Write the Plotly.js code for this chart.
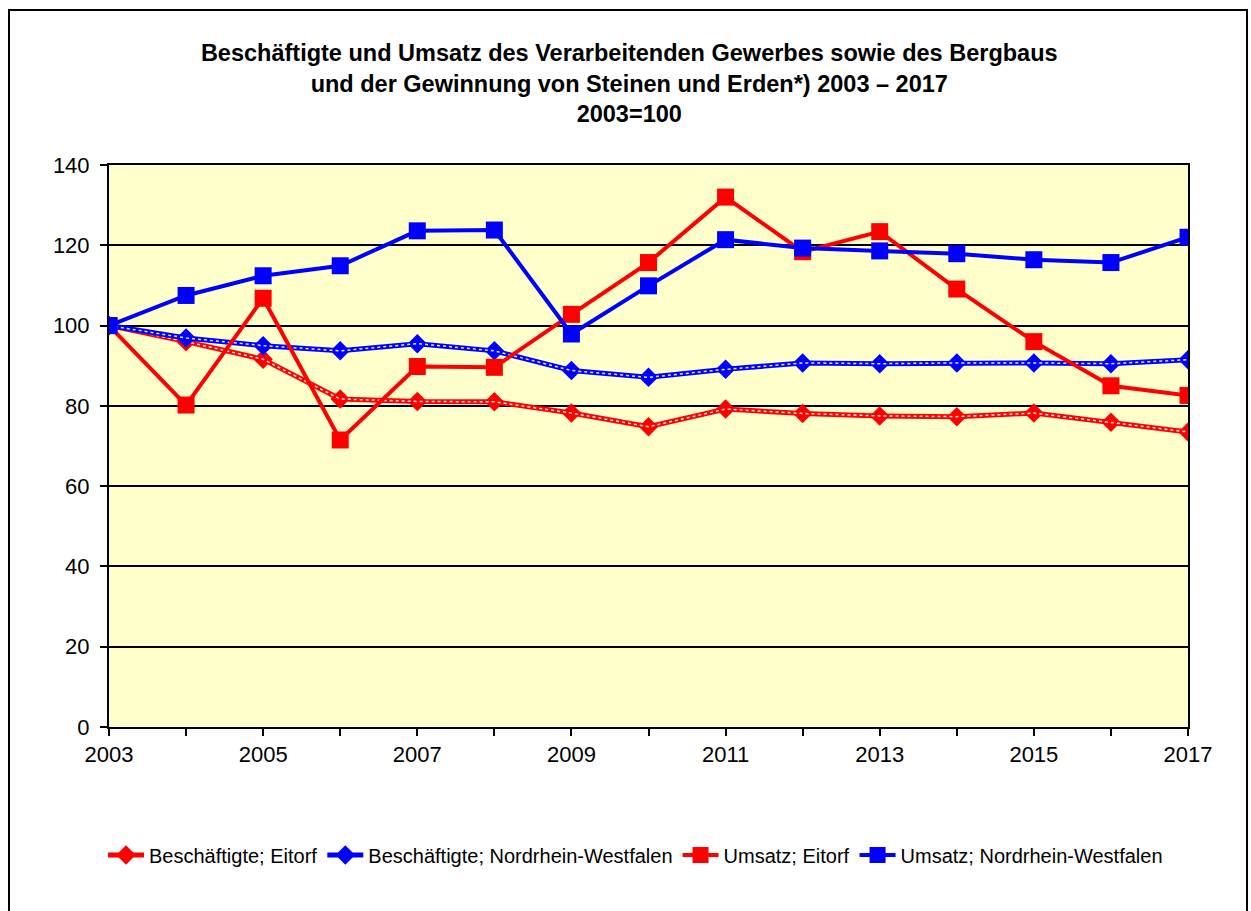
<!DOCTYPE html>
<html>
<head>
<meta charset="utf-8">
<script src="https://cdn.plot.ly/plotly-3.0.1.min.js"></script>
<style>
html,body{margin:0;padding:0;background:#fff;}
#wrap{position:relative;width:1251px;height:911px;}
#chart{width:1251px;height:911px;}
#frame{position:absolute;left:8px;top:9px;width:1240px;height:910px;border:2px solid #000;pointer-events:none;box-sizing:border-box;}
</style>
</head>
<body>
<div id="wrap"><div id="chart"></div><div id="frame"></div></div>
<script>
const years = [2003,2004,2005,2006,2007,2008,2009,2010,2011,2012,2013,2014,2015,2016,2017];
const yearLabels = ["2003","","2005","","2007","","2009","","2011","","2013","","2015","","2017"];
const beschEitorf = [100,96.0,91.6,81.7,81.1,81.0,78.2,74.8,79.2,78.1,77.5,77.3,78.2,75.9,73.5];
const beschNRW = [100,96.9,95.0,93.7,95.5,93.7,88.8,87.1,89.1,90.7,90.5,90.7,90.7,90.5,91.5];
const umsatzEitorf = [100,80.2,106.8,71.5,89.8,89.6,102.8,115.7,132.0,118.4,123.4,109.1,96.0,85.0,82.6];
const umsatzNRW = [100,107.5,112.4,114.9,123.6,123.8,97.9,109.9,121.4,119.3,118.6,117.9,116.4,115.7,122.0];
const names = ["Beschäftigte; Eitorf","Beschäftigte; Nordrhein-Westfalen","Umsatz; Eitorf","Umsatz; Nordrhein-Westfalen"];
const yTicks = [0,20,40,60,80,100,120,140];
const titleText = "Beschäftigte und Umsatz des Verarbeitenden Gewerbes sowie des Bergbaus<br>und der Gewinnung von Steinen und Erden*) 2003 – 2017<br>2003=100";

const RED = "#FF0000", BLUE = "#0000FF";
const FONT = "Liberation Sans, Arial, sans-serif";

function dotted(y, color, name){
  return [
    {x: years, y: y, name: name, type: "scatter", mode: "lines+markers",
     line: {color: color, width: 5}, marker: {symbol: "diamond", size: 15, color: color}},
    {x: years, y: y, name: name, type: "scatter", mode: "lines", showlegend: false, hoverinfo: "skip",
     line: {color: "rgba(255,255,255,0.9)", width: 1.5, dash: "dot"}}
  ];
}

const traces = [
  ...dotted(beschEitorf, RED, names[0]),
  ...dotted(beschNRW, BLUE, names[1]),
  {x: years, y: umsatzEitorf, name: names[2], type: "scatter", mode: "lines+markers",
   line: {color: RED, width: 4}, marker: {symbol: "square", size: 17, color: RED}},
  {x: years, y: umsatzNRW, name: names[3], type: "scatter", mode: "lines+markers",
   line: {color: BLUE, width: 4}, marker: {symbol: "square", size: 17, color: BLUE}}
];

const layout = {
  width: 1251, height: 911,
  margin: {l: 109, r: 63, t: 165, b: 184, autoexpand: false},
  paper_bgcolor: "#FFFFFF",
  plot_bgcolor: "#FFFFCC",
  font: {family: FONT, color: "#000", size: 22},
  title: {text: titleText, font: {family: FONT, size: 23.5, color: "#000", weight: "bold"},
          xref: "container", x: 0.503, xanchor: "center", yref: "container", y: 1 - 61/911, yanchor: "middle"},
  showlegend: true,
  legend: {orientation: "h", xref: "container", yref: "container", x: 0.508, xanchor: "center",
           y: 1 - 855/911, yanchor: "middle",
           font: {family: FONT, size: 20}, itemwidth: 36, tracegroupgap: 0, bgcolor: "rgba(0,0,0,0)"},
  xaxis: {range: [2003, 2017], tickmode: "array", tickvals: years, ticktext: yearLabels, tickangle: 0,
          ticks: "outside", ticklen: 7, tickwidth: 2, tickcolor: "#000",
          showline: true, linecolor: "#000", linewidth: 2, mirror: true, automargin: false,
          showgrid: false, zeroline: false, tickfont: {size: 22}},
  yaxis: {range: [0, 140], tickmode: "array", tickvals: yTicks, automargin: false, ticklabelstandoff: 6,
          ticks: "outside", ticklen: 7, tickwidth: 2, tickcolor: "#000",
          showline: true, linecolor: "#000", linewidth: 2, mirror: true,
          showgrid: true, gridcolor: "#000", gridwidth: 2, zeroline: false, tickfont: {size: 22}}
};

Plotly.newPlot("chart", traces, layout, {displayModeBar: false, staticPlot: true});
</script>
</body>
</html>
